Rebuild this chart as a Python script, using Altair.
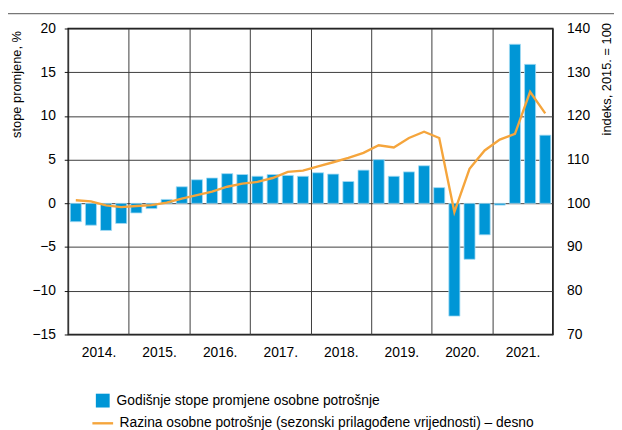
import altair as alt
import pandas as pd

FONT = "Liberation Sans, Arial, sans-serif"

years = [2014, 2015, 2016, 2017, 2018, 2019, 2020, 2021]
quarters = [1, 2, 3, 4]

# Annual rates of change of personal consumption, % (left axis)
growth = [-2.1, -2.5, -3.1, -2.3,
          -1.1, -0.6, 0.45, 1.9,
          2.7, 2.9, 3.4, 3.3,
          3.1, 3.3, 3.2, 3.1,
          3.5, 3.35, 2.5, 3.8,
          5.0, 3.1, 3.6, 4.3,
          1.8, -12.9, -6.4, -3.6,
          -0.2, 18.2, 15.9, 7.8]

# Level of personal consumption, index 2015 = 100 (right axis)
level = [100.7, 100.45, 99.55, 99.15,
         99.4, 99.6, 100.15, 101.1,
         101.9, 102.7, 103.8, 104.5,
         104.9, 105.8, 107.2, 107.5,
         108.45, 109.4, 110.4, 111.55,
         113.3, 112.8, 114.95, 116.4,
         114.95, 98.0, 107.9, 112.1,
         114.6, 115.9, 125.5, 120.6]

label_bar = "Godišnje stope promjene osobne potrošnje"
label_line = "Razina osobne potrošnje (sezonski prilagođene vrijednosti) – desno"

rows = []
i = 0
for y in years:
    for q in quarters:
        rows.append({"t": y + (q - 0.5) / 4, "growth": growth[i], "level": level[i],
                     "s1": label_bar, "s2": label_line})
        i += 1
df = pd.DataFrame(rows)

BLUE = "#0096D6"
ORANGE = "#F5A53C"
GRID = "#3c3c3c"

W, H = 491, 310
LFS = 14

x_enc = alt.X("t:Q",
              scale=alt.Scale(domain=[2014, 2022], nice=False, zero=False, padding=0),
              axis=alt.Axis(values=list(range(2014, 2023)), grid=True, gridColor=GRID,
                            gridWidth=1, ticks=False, domain=False, title=None,
                            labelExpr="datum.value < 2022 ? datum.value + '.' : ''",
                            labelOffset=30.7, labelPadding=11, labelFontSize=LFS,
                            labelFlush=False, labelOverlap=False, labelBound=False,
                            labelFont=FONT, labelColor="#000", labelAngle=0))

bars = alt.Chart(df).mark_bar(size=11.2, stroke="#a6dcf3", strokeWidth=0.8).encode(
    x=x_enc,
    y=alt.Y("growth:Q",
            scale=alt.Scale(domain=[-15, 20], nice=False, zero=False, padding=0),
            axis=alt.Axis(orient="left", values=[-15, -10, -5, 0, 5, 10, 15, 20],
                          grid=True, gridColor=GRID, gridWidth=1,
                          ticks=True, tickSize=4, tickColor="#111", domain=False,
                          labelPadding=9, labelFontSize=LFS, labelFont=FONT, labelColor="#000",
                          labelExpr="replace(format(datum.value, 'd'), '-', '−')",
                          title="stope promjene, %", titleFont=FONT, titleFontSize=13,
                          titleFontWeight="normal", titleColor="#000", titleAngle=-90,
                          titleAlign="right", titleBaseline="top", titleX=-58, titleY=2)),
    fill=alt.Fill("s1:N", scale=alt.Scale(domain=[label_bar], range=[BLUE]),
                  legend=alt.Legend(orient="none", legendX=28, legendY=370, title=None,
                                    symbolType="square", symbolSize=196, symbolStrokeWidth=0,
                                    labelFont=FONT, labelFontSize=LFS, labelColor="#000",
                                    labelLimit=600, labelOffset=7)),
)

line = alt.Chart(df).mark_line(strokeWidth=2.4).encode(
    x=alt.X("t:Q"),
    y=alt.Y("level:Q",
            scale=alt.Scale(domain=[70, 140], nice=False, zero=False, padding=0),
            axis=alt.Axis(orient="right", values=[70, 80, 90, 100, 110, 120, 130, 140],
                          grid=False, ticks=False, domain=False,
                          labelPadding=14, labelFontSize=LFS, labelFont=FONT, labelColor="#000",
                          title="indeks, 2015. = 100", titleFont=FONT, titleFontSize=13,
                          titleFontWeight="normal", titleColor="#000", titleAngle=-90,
                          titleAlign="right", titleBaseline="top", titleX=48, titleY=-6)),
    stroke=alt.Stroke("s2:N", scale=alt.Scale(domain=[label_line], range=[ORANGE]),
                      legend=alt.Legend(orient="none", legendX=23, legendY=388, title=None,
                                        symbolType="stroke", symbolSize=441,
                                        symbolStrokeWidth=2.4,
                                        labelFont=FONT, labelFontSize=LFS, labelColor="#000",
                                        labelLimit=600, labelOffset=5)),
)

top_rule = alt.Chart(pd.DataFrame({"a": [0]})).mark_rule(color="#777", strokeWidth=1.2).encode(
    x=alt.value(-62), x2=alt.value(553), y=alt.value(-15)
)

chart = alt.layer(bars, line, top_rule).resolve_scale(
    y="independent", fill="independent", stroke="independent"
).properties(
    width=W, height=H,
    autosize=alt.AutoSizeParams(type="none"),
    padding={"left": 61, "top": 18, "right": 62, "bottom": 94},
).configure_view(
    stroke="#111", strokeWidth=1.5
)

chart.save("out.html", embed_options={"renderer": "svg", "actions": False})
